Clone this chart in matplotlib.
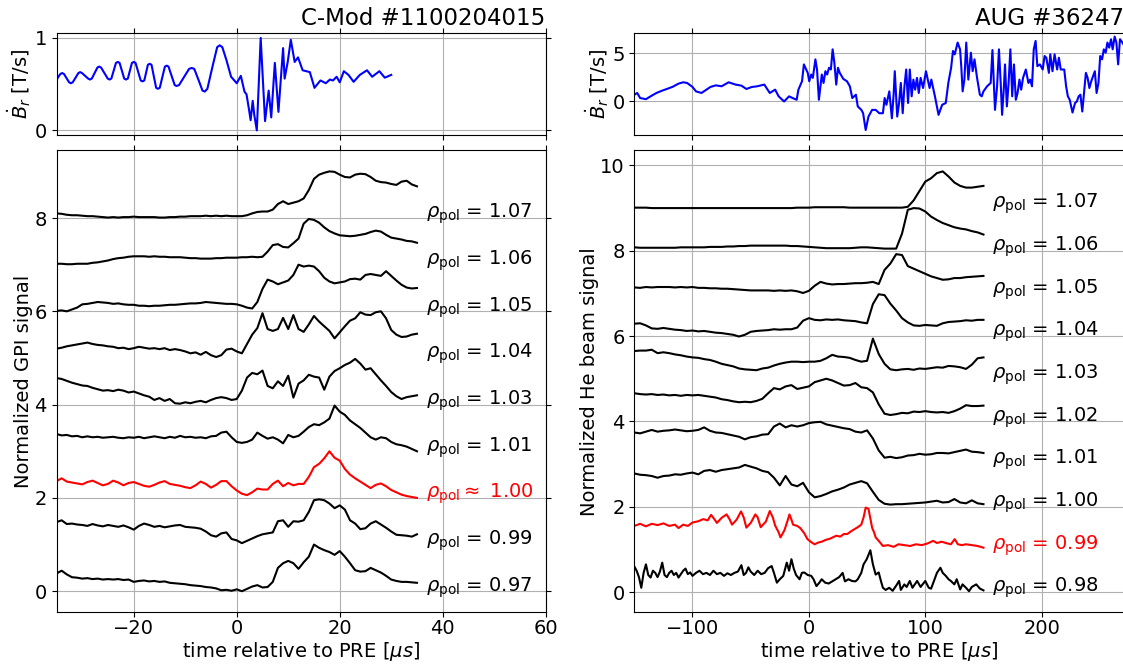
import numpy as np
import matplotlib
matplotlib.use('Agg')
import matplotlib.pyplot as plt

plt.rcParams['font.family'] = ['DejaVu Sans']
plt.rcParams['mathtext.fontset'] = 'dejavusans'
plt.rcParams['font.size'] = 14

# ---------------- C-Mod data ----------------
cmod_t = np.arange(-35, 36, 1)
cmod_labels = ['1.07', '1.06', '1.05', '1.04', '1.03', '1.01', '1.00', '0.99', '0.97']
cmod_offsets = [8, 7, 6, 5, 4, 3, 2, 1, 0]
cmod_colors = ['k', 'k', 'k', 'k', 'k', 'k', 'r', 'k', 'k']

c107 = [8.10, 8.09, 8.07, 8.06, 8.06, 8.05, 8.04, 8.04, 8.03, 8.02, 8.01, 8.02, 8.01, 8.02, 8.02,
        8.03, 8.02, 8.02, 8.02, 8.02, 8.01, 8.01, 8.02, 8.02, 8.03, 8.03, 8.04, 8.04, 8.04, 8.05,
        8.04, 8.05, 8.04, 8.05, 8.04, 8.04, 8.04, 8.06, 8.10, 8.13, 8.14, 8.14, 8.18, 8.30, 8.36,
        8.30, 8.33, 8.36, 8.42, 8.60, 8.84, 8.93, 8.97, 9.00, 8.99, 8.93, 8.88, 8.87, 8.93, 8.95,
        8.94, 8.88, 8.80, 8.77, 8.76, 8.73, 8.71, 8.78, 8.80, 8.72, 8.68]
c106 = [7.02, 7.02, 7.01, 7.01, 7.02, 7.02, 7.02, 7.04, 7.05, 7.07, 7.09, 7.12, 7.14, 7.15, 7.17,
        7.18, 7.18, 7.18, 7.17, 7.18, 7.17, 7.17, 7.16, 7.16, 7.16, 7.15, 7.14, 7.14, 7.13, 7.13,
        7.13, 7.14, 7.14, 7.15, 7.15, 7.15, 7.16, 7.16, 7.17, 7.16, 7.17, 7.28, 7.42, 7.44, 7.38,
        7.37, 7.46, 7.56, 7.88, 7.98, 7.96, 7.90, 7.80, 7.72, 7.67, 7.63, 7.62, 7.61, 7.62, 7.64,
        7.66, 7.70, 7.73, 7.71, 7.64, 7.58, 7.56, 7.54, 7.51, 7.50, 7.47]
c105 = [6.01, 6.02, 6.00, 6.04, 6.08, 6.15, 6.16, 6.18, 6.20, 6.19, 6.18, 6.16, 6.17, 6.15, 6.14,
        6.14, 6.12, 6.12, 6.11, 6.12, 6.12, 6.13, 6.14, 6.14, 6.15, 6.16, 6.17, 6.17, 6.18, 6.20,
        6.19, 6.18, 6.17, 6.16, 6.16, 6.15, 6.12, 6.08, 6.06, 6.20, 6.48, 6.68, 6.64, 6.58, 6.62,
        6.66, 6.78, 7.00, 6.96, 6.98, 6.96, 6.86, 6.72, 6.64, 6.60, 6.62, 6.64, 6.69, 6.70, 6.68,
        6.78, 6.80, 6.78, 6.76, 6.86, 6.76, 6.66, 6.57, 6.51, 6.49, 6.50]
c104 = [5.20, 5.22, 5.25, 5.27, 5.29, 5.31, 5.33, 5.30, 5.28, 5.27, 5.25, 5.24, 5.21, 5.22, 5.19,
        5.21, 5.24, 5.22, 5.20, 5.21, 5.19, 5.21, 5.17, 5.19, 5.17, 5.14, 5.10, 5.12, 5.07, 5.13,
        5.06, 5.02, 5.06, 5.18, 5.20, 5.14, 5.10, 5.30, 5.50, 5.64, 5.96, 5.62, 5.58, 5.62, 5.86,
        5.62, 5.92, 5.62, 5.56, 5.72, 5.90, 5.78, 5.68, 5.58, 5.42, 5.55, 5.68, 5.80, 5.85, 5.98,
        5.93, 5.92, 5.98, 6.00, 5.85, 5.60, 5.50, 5.45, 5.46, 5.50, 5.52]
c103 = [4.57, 4.55, 4.51, 4.47, 4.44, 4.41, 4.40, 4.36, 4.33, 4.30, 4.31, 4.29, 4.32, 4.30, 4.26,
        4.28, 4.24, 4.20, 4.17, 4.10, 4.14, 4.08, 4.12, 4.03, 4.02, 4.05, 4.03, 4.06, 4.08, 4.05,
        4.10, 4.14, 4.16, 4.14, 4.10, 4.12, 4.30, 4.58, 4.68, 4.65, 4.73, 4.40, 4.35, 4.50, 4.40,
        4.62, 4.15, 4.45, 4.52, 4.64, 4.60, 4.58, 4.32, 4.60, 4.72, 4.78, 4.85, 4.90, 4.98, 4.88,
        4.75, 4.78, 4.65, 4.52, 4.40, 4.27, 4.18, 4.12, 4.16, 4.18, 4.20]
c101 = [3.37, 3.34, 3.35, 3.32, 3.33, 3.30, 3.32, 3.30, 3.31, 3.29, 3.30, 3.31, 3.29, 3.28, 3.30,
        3.29, 3.31, 3.28, 3.30, 3.32, 3.30, 3.28, 3.31, 3.29, 3.33, 3.30, 3.31, 3.29, 3.30, 3.28,
        3.32, 3.33, 3.40, 3.42, 3.30, 3.20, 3.18, 3.20, 3.25, 3.40, 3.33, 3.27, 3.30, 3.25, 3.17,
        3.35, 3.30, 3.33, 3.42, 3.52, 3.58, 3.56, 3.62, 3.70, 3.98, 3.85, 3.78, 3.66, 3.58, 3.50,
        3.40, 3.30, 3.25, 3.30, 3.28, 3.20, 3.15, 3.13, 3.10, 3.05, 3.00]
c100 = [2.36, 2.42, 2.35, 2.33, 2.31, 2.29, 2.34, 2.37, 2.32, 2.27, 2.30, 2.37, 2.33, 2.27, 2.32,
        2.34, 2.30, 2.26, 2.24, 2.28, 2.33, 2.36, 2.30, 2.28, 2.26, 2.23, 2.21, 2.27, 2.35, 2.30,
        2.22, 2.28, 2.36, 2.36, 2.25, 2.16, 2.09, 2.06, 2.12, 2.20, 2.18, 2.18, 2.30, 2.37, 2.25,
        2.32, 2.27, 2.30, 2.30, 2.45, 2.66, 2.73, 2.85, 3.00, 2.86, 2.80, 2.62, 2.50, 2.42, 2.35,
        2.28, 2.21, 2.28, 2.31, 2.25, 2.17, 2.12, 2.07, 2.04, 2.02, 2.00]
c099 = [1.48, 1.52, 1.44, 1.45, 1.43, 1.42, 1.40, 1.44, 1.41, 1.39, 1.42, 1.40, 1.38, 1.41, 1.37,
        1.32, 1.40, 1.45, 1.42, 1.38, 1.40, 1.37, 1.39, 1.41, 1.42, 1.38, 1.37, 1.36, 1.34, 1.28,
        1.20, 1.17, 1.24, 1.26, 1.12, 1.09, 1.03, 1.08, 1.13, 1.18, 1.22, 1.24, 1.26, 1.50, 1.52,
        1.38, 1.50, 1.49, 1.52, 1.70, 1.95, 1.97, 1.95, 1.88, 1.78, 1.84, 1.75, 1.52, 1.45, 1.33,
        1.35, 1.45, 1.50, 1.43, 1.36, 1.28, 1.21, 1.20, 1.19, 1.17, 1.22]
c097 = [0.38, 0.44, 0.36, 0.30, 0.29, 0.27, 0.28, 0.26, 0.27, 0.25, 0.26, 0.25, 0.26, 0.24, 0.25,
        0.20, 0.22, 0.23, 0.21, 0.22, 0.20, 0.21, 0.18, 0.17, 0.16, 0.15, 0.13, 0.12, 0.11, 0.09,
        0.08, 0.06, 0.02, 0.03, 0.01, 0.04, 0.00, 0.05, 0.10, 0.13, 0.08, 0.09, 0.20, 0.50, 0.60,
        0.65, 0.60, 0.48, 0.62, 0.74, 1.00, 0.93, 0.88, 0.84, 0.78, 0.86, 0.74, 0.60, 0.45, 0.42,
        0.43, 0.50, 0.45, 0.40, 0.33, 0.25, 0.22, 0.20, 0.20, 0.19, 0.18]
cmod_traces = [c107, c106, c105, c104, c103, c101, c100, c099, c097]

cmod_br_t = [-35.3, -34.7, -34.25, -33.9, -33.55, -33.05, -32.55, -32.2, -31.85, -31.3, -30.75,
             -30.4, -30.05, -29.45, -28.85, -28.5, -28.15, -27.6, -27.05, -26.7, -26.35, -25.7,
             -25.05, -24.7, -24.35, -23.9, -23.45, -23.1, -22.75, -22.3, -21.85, -21.5, -21.15,
             -20.75, -20.35, -20.0, -19.65, -19.15, -18.65, -18.3, -17.95, -17.6, -17.25, -16.9,
             -16.55, -16.1, -15.65, -15.3, -14.95, -14.45, -13.95, -13.6, -13.25, -12.65, -12.05,
             -11.7, -11.2, -10.2, -9.25, -8.75, -8.25, -7.45, -6.65, -6.2, -5.7, -4.75, -3.8, -3.3,
             -2.8, -2.0, -1.1,
             0.0, 0.8, 1.5, 1.9, 2.4, 2.7, 3.1, 3.4, 3.9, 4.65, 5.5, 6.2, 6.7, 7.4, 8.1, 9.0, 9.3,
             9.9, 10.5, 11.25, 11.9, 12.8, 14.2, 15.1, 16.25, 17.3, 18.1, 18.7, 19.4, 20.0, 20.8,
             21.7, 22.7, 23.9, 25.3, 26.3, 27.7, 28.75, 30.0]
cmod_br_v = [0.51, 0.575, 0.61, 0.62, 0.61, 0.565, 0.52, 0.51, 0.52, 0.57, 0.62,
             0.63, 0.62, 0.59, 0.56, 0.55, 0.56, 0.62, 0.68, 0.69, 0.68, 0.62,
             0.56, 0.55, 0.56, 0.645, 0.73, 0.74, 0.73, 0.645, 0.56, 0.55, 0.56,
             0.645, 0.73, 0.74, 0.73, 0.635, 0.54, 0.53, 0.54, 0.625, 0.71, 0.72,
             0.71, 0.585, 0.46, 0.45, 0.46, 0.575, 0.69, 0.70, 0.69, 0.59, 0.49,
             0.48, 0.49, 0.58, 0.665, 0.675, 0.665, 0.55, 0.43, 0.42, 0.45, 0.68, 0.90, 0.92,
             0.90, 0.76, 0.58,
             0.51, 0.59, 0.42, 0.39, 0.22, 0.11, 0.32, 0.17, 0.00, 1.00, 0.10, 0.43, 0.14, 0.73,
             0.20, 0.89, 0.56, 0.74, 0.98, 0.74, 0.79, 0.65, 0.63, 0.46, 0.54, 0.51, 0.55, 0.54,
             0.58, 0.52, 0.64, 0.60, 0.525, 0.60, 0.65, 0.58, 0.64, 0.57, 0.60]

# ---------------- AUG data ----------------
aug_t = np.arange(-150, 151, 5)
aug_labels = ['1.07', '1.06', '1.05', '1.04', '1.03', '1.02', '1.01', '1.00', '0.99', '0.98']
aug_offsets = [9, 8, 7, 6, 5, 4, 3, 2, 1, 0]
aug_colors = ['k', 'k', 'k', 'k', 'k', 'k', 'k', 'k', 'r', 'k']

a107 = [9.01, 9.01, 9.01, 9.00, 9.00, 9.00, 9.00, 9.00, 9.00, 9.00,
        9.00, 9.00, 9.00, 9.00, 9.00, 9.00, 9.00, 9.00, 9.00, 9.00,
        9.00, 9.00, 9.00, 9.00, 9.00, 9.00, 9.00, 9.00, 9.01, 9.01,
        9.01, 9.02, 9.02, 9.02, 9.02, 9.02, 9.02, 9.01, 9.01, 9.01,
        9.01, 9.01, 9.01, 9.01, 9.01, 9.01, 9.01, 9.03, 9.18, 9.40,
        9.62, 9.70, 9.82, 9.86, 9.74, 9.60, 9.52, 9.48, 9.48, 9.50, 9.52]
a106 = [8.08, 8.07, 8.07, 8.07, 8.07, 8.07, 8.07, 8.07, 8.08, 8.08,
        8.08, 8.08, 8.08, 8.09, 8.09, 8.09, 8.10, 8.10, 8.11, 8.11,
        8.12, 8.12, 8.12, 8.12, 8.12, 8.12, 8.12, 8.11, 8.11, 8.10,
        8.09, 8.08, 8.07, 8.06, 8.06, 8.06, 8.06, 8.06, 8.07, 8.08,
        8.08, 8.07, 8.06, 8.05, 8.05, 8.05, 8.40, 8.96, 9.00, 8.99,
        8.92, 8.80, 8.72, 8.65, 8.60, 8.55, 8.52, 8.50, 8.46, 8.43, 8.38]
a105 = [7.14, 7.13, 7.15, 7.14, 7.15, 7.15, 7.15, 7.14, 7.15, 7.14,
        7.15, 7.13, 7.13, 7.12, 7.12, 7.11, 7.11, 7.10, 7.09, 7.08,
        7.07, 7.07, 7.07, 7.07, 7.06, 7.07, 7.06, 7.07, 7.05, 7.01,
        7.06, 7.18, 7.27, 7.23, 7.21, 7.22, 7.22, 7.23, 7.24, 7.24,
        7.25, 7.27, 7.22, 7.55, 7.70, 7.92, 7.90, 7.64, 7.58, 7.52,
        7.46, 7.40, 7.36, 7.32, 7.33, 7.36, 7.36, 7.38, 7.39, 7.40, 7.41]
a104 = [6.29, 6.30, 6.25, 6.18, 6.17, 6.19, 6.17, 6.15, 6.14, 6.12,
        6.13, 6.11, 6.12, 6.10, 6.08, 6.07, 6.05, 6.03, 5.99, 6.03,
        6.10, 6.12, 6.13, 6.14, 6.16, 6.15, 6.16, 6.16, 6.20, 6.36,
        6.42, 6.38, 6.37, 6.39, 6.38, 6.39, 6.37, 6.36, 6.35, 6.32,
        6.30, 6.75, 6.98, 6.96, 6.76, 6.60, 6.42, 6.32, 6.25, 6.24,
        6.26, 6.25, 6.24, 6.30, 6.33, 6.34, 6.35, 6.37, 6.36, 6.38, 6.38]
a103 = [5.65, 5.66, 5.66, 5.68, 5.60, 5.62, 5.60, 5.57, 5.55, 5.52,
        5.50, 5.49, 5.46, 5.44, 5.40, 5.35, 5.32, 5.29, 5.24, 5.22,
        5.21, 5.20, 5.24, 5.26, 5.31, 5.35, 5.38, 5.40, 5.40, 5.39,
        5.40, 5.40, 5.42, 5.48, 5.56, 5.52, 5.51, 5.49, 5.44, 5.40,
        5.42, 5.94, 5.58, 5.35, 5.22, 5.20, 5.22, 5.23, 5.21, 5.24,
        5.23, 5.25, 5.27, 5.26, 5.30, 5.29, 5.27, 5.23, 5.33, 5.48, 5.50]
a102 = [4.66, 4.64, 4.63, 4.64, 4.62, 4.63, 4.61, 4.62, 4.60, 4.62,
        4.61, 4.62, 4.60, 4.58, 4.56, 4.52, 4.50, 4.47, 4.45, 4.46,
        4.45, 4.48, 4.53, 4.66, 4.78, 4.75, 4.82, 4.85, 4.76, 4.79,
        4.82, 4.92, 4.96, 5.00, 4.96, 4.90, 4.84, 4.85, 4.90, 4.80,
        4.78, 4.68, 4.40, 4.18, 4.15, 4.17, 4.20, 4.19, 4.23, 4.22,
        4.24, 4.22, 4.21, 4.22, 4.20, 4.24, 4.30, 4.38, 4.36, 4.36, 4.37]
a101 = [3.74, 3.72, 3.76, 3.80, 3.76, 3.78, 3.79, 3.81, 3.79, 3.77,
        3.78, 3.80, 3.86, 3.78, 3.74, 3.73, 3.70, 3.67, 3.64, 3.58,
        3.63, 3.65, 3.69, 3.70, 3.88, 3.95, 3.86, 3.91, 3.88, 3.91,
        3.96, 3.98, 3.99, 3.93, 3.90, 3.87, 3.84, 3.82, 3.76, 3.74,
        3.79, 3.60, 3.32, 3.15, 3.17, 3.14, 3.16, 3.20, 3.21, 3.24,
        3.22, 3.23, 3.26, 3.26, 3.25, 3.28, 3.31, 3.34, 3.29, 3.28, 3.26]
a100 = [2.78, 2.75, 2.74, 2.72, 2.68, 2.72, 2.73, 2.76, 2.75, 2.78,
        2.80, 2.76, 2.84, 2.86, 2.82, 2.86, 2.88, 2.90, 2.92, 2.98,
        2.94, 2.90, 2.84, 2.81, 2.68, 2.50, 2.72, 2.52, 2.48, 2.56,
        2.34, 2.22, 2.25, 2.30, 2.36, 2.40, 2.45, 2.52, 2.56, 2.60,
        2.55, 2.35, 2.16, 2.07, 2.05, 2.06, 2.06, 2.07, 2.08, 2.09,
        2.10, 2.12, 2.14, 2.10, 2.11, 2.18, 2.10, 2.08, 2.15, 2.08, 2.06]

a099_t = [-150, -145, -140, -135, -130, -125, -120, -115, -112, -108, -104, -100, -95, -90.7, -87,
          -84, -81, -79, -75, -70.7, -68, -66, -62, -58.3, -56, -53.7, -50, -46, -44, -41.4, -37,
          -33.6, -31, -29, -26, -24.4, -21, -18, -16.7, -15, -13.6, -10, -7.4, -4, -1.2, 2, 4.9,
          8, 11, 14.2, 18, 23.5, 27, 30, 33, 36, 38.9, 42, 45, 47, 48.8, 51.2, 53, 54.3, 56, 57.4,
          60, 63.6, 68, 72.8, 77, 82, 87, 92, 97, 102, 106.8, 110, 114, 119, 122, 125.3, 128,
          131.5, 135, 140, 145, 150]
a099_v = [1.55, 1.60, 1.54, 1.60, 1.57, 1.61, 1.55, 1.58, 1.50, 1.58, 1.55, 1.63, 1.66, 1.71, 1.68,
          1.81, 1.70, 1.62, 1.74, 1.82, 1.70, 1.58, 1.70, 1.89, 1.75, 1.51, 1.62, 1.82, 1.75, 1.52, 1.65,
          1.90, 1.75, 1.56, 1.40, 1.28, 1.45, 1.70, 1.82, 1.70, 1.58, 1.55, 1.50, 1.38, 1.24, 1.17, 1.12,
          1.16, 1.18, 1.22, 1.25, 1.32, 1.30, 1.36, 1.36, 1.42, 1.47, 1.52, 1.58, 1.75, 1.98, 1.95, 1.70,
          1.51, 1.40, 1.28, 1.20, 1.08, 1.10, 1.06, 1.12, 1.10, 1.08, 1.12, 1.10, 1.14, 1.20, 1.15, 1.18,
          1.14, 1.12, 1.24, 1.12, 1.10, 1.12, 1.10, 1.08, 1.04]

a098_t = [-150, -148, -146, -144, -142, -140, -138, -136, -134, -132, -130, -128, -126, -124, -122,
          -120, -118, -116, -114, -112, -110, -108, -106, -104, -102, -100, -97, -94, -91, -88, -85,
          -82, -79, -76, -73, -70, -67, -64, -61, -58, -56, -54, -52, -50, -47, -44, -41, -38, -35,
          -32, -30, -27.5, -25, -22, -19, -17, -15, -13, -11, -8, -6, -4, -1, 2, 4, 6.5, 9, 11, 14,
          17, 20, 23, 26, 29, 31, 34, 37, 40, 42, 45, 47, 49.7, 52.8, 55, 57.4, 60, 62, 63.6, 66,
          69, 72, 75, 77.5, 79, 82, 84, 86.7, 89, 93, 96, 100, 103, 105, 108, 110, 113, 115, 117.6,
          120, 122, 125, 127, 130, 132, 135, 137.6, 140, 143.8, 147, 150]
a098_v = [0.60, 0.50, 0.35, 0.10, 0.45, 0.65, 0.40, 0.34, 0.50, 0.45, 0.35, 0.48, 0.69, 0.40, 0.35,
          0.45, 0.50, 0.40, 0.45, 0.34, 0.42, 0.50, 0.55, 0.42, 0.46, 0.38, 0.45, 0.50, 0.42, 0.45, 0.40,
          0.50, 0.42, 0.45, 0.38, 0.44, 0.40, 0.45, 0.48, 0.63, 0.40, 0.45, 0.58, 0.48, 0.40, 0.50, 0.42,
          0.45, 0.56, 0.61, 0.45, 0.22, 0.30, 0.38, 0.69, 0.50, 0.77, 0.55, 0.40, 0.30, 0.45, 0.46, 0.40,
          0.38, 0.30, 0.14, 0.22, 0.30, 0.22, 0.20, 0.25, 0.30, 0.35, 0.45, 0.25, 0.30, 0.26, 0.25, 0.30,
          0.45, 0.65, 0.77, 0.98, 0.65, 0.41, 0.46, 0.25, 0.10, 0.05, 0.10, 0.03, 0.15, 0.26, 0.05, 0.18,
          0.12, 0.26, 0.10, 0.26, 0.12, 0.26, 0.10, 0.08, 0.30, 0.45, 0.57, 0.45, 0.38, 0.30, 0.26, 0.18,
          0.30, 0.06, 0.18, 0.10, 0.02, 0.12, 0.18, 0.08, 0.04]

aug_br_t = [-150, -147.5, -145, -140, -136, -131, -126, -122, -117, -112, -108, -104.6, -100, -97,
            -92.3, -88, -84.6, -80, -75, -69, -63, -58, -53.7, -49, -44.4, -38.3, -33.6, -29, -26,
            -21.3, -17, -14, -10.5, -9, -5.9, -4.3, -1, 0.3, 2, 3.4, 5.6, 7, 8.6, 11.1, 12.6, 14.2,
            15.7, 17.3, 18.9, 20.4, 21.9, 23.5, 25, 26.5, 29.6, 32.7, 35.2, 37.3, 40.4, 42, 45.1,
            46.6, 48.8, 51.2, 54.3, 57.4, 60.5, 63.6, 65.1, 66.6, 69.1, 71.3, 72.8, 73.8, 75.9,
            77.5, 79, 80.6, 82.1, 83.6, 85.2, 86.7, 88.3, 89.8, 91.3, 92.9, 94.4, 96, 98.1, 100.6,
            103.7, 105.2, 108.3, 111.4, 114.5, 117.6, 119.8, 122.2, 123.8, 125.3, 127.8, 129.9,
            131, 132.1, 133.6, 135.2, 137, 139.2, 140.7, 142.3, 144.5, 146.9, 148.5, 150, 153.1,
            156.2, 157.7, 159.9, 161.7, 163.3, 164.8, 166, 167.6, 168.5, 170.1, 171.6, 173.1,
            174.7, 176.2, 177.8, 179.3, 180.9, 182.4, 184, 186.4, 188.6, 190.1, 191.7, 193.2,
            194.8, 196.3, 198.5, 200.9, 202.5, 204, 206.2, 207.4, 209.3, 211.1, 213.3, 214.8,
            216.4, 219.4, 221, 222.5, 224.1, 226.5, 228.7, 230.2, 231.8, 233.3, 234.9, 236.4, 238,
            239.5, 241, 242.6, 244.1, 245.7, 247.2, 248.8, 250.3, 251.9, 253.4, 255, 256.5, 258,
            259.6, 261, 262.7, 264.2, 265.7, 267.3, 269, 271]
aug_br_v = [0.67, 0.85, 0.32, 0.20, 0.50, 0.85, 1.10, 1.27, 1.50, 1.83, 1.97, 1.90, 1.48, 1.02,
            0.85, 1.20, 1.48, 1.65, 1.55, 1.97, 1.73, 1.62, 1.27, 1.48, 1.55, 1.73, 0.85, 1.20, 0.50,
            -0.04, 0.50, 0.32, 0.14, 1.20, 2.08, 3.84, 2.96, 2.08, 2.78, 2.43, 4.37, 3.30, 0.14, 2.78,
            1.90, 3.13, 2.78, 3.49, 3.31, 5.42, 4.01, 1.73, 3.49, 2.96, 2.32, 2.08, 1.55, 0.32, 0.67,
            -0.56, -0.92, -1.27, -3.03, -1.62, -0.92, -0.92, -1.27, -1.27, 0.32, -0.39, 1.02, -1.80,
            0.67, 3.13, -1.62, -0.20, 1.90, -1.27, 1.55, 3.31, -0.20, 3.31, 0.50, 2.25, 1.20, 2.43,
            0.85, 2.43, 1.37, 3.13, 1.37, 2.25, 0.50, -1.44, -0.39, -0.20, 1.90, 3.49, 5.25, 4.89,
            6.13, 5.42, 3.49, 1.02, 2.25, 6.13, 2.25, 5.07, 3.13, 4.37, 2.43, 0.67, 0.50, 1.02, 1.55,
            1.90, 5.35, -0.92, 1.55, 5.42, 1.90, -1.44, 1.55, 3.84, -0.56, 1.90, 5.42, 0.50, 3.84,
            0.14, 0.85, 2.25, 1.20, 2.43, 3.31, 1.90, 2.25, 1.55, 5.42, 6.30, 3.66, 3.84, 3.31, 4.72,
            4.54, 2.96, 4.90, 3.13, 4.90, 3.31, 4.54, 3.31, 3.31, 1.55, 0.50, 0.14, -1.20, -0.20,
            -0.04, 0.50, 0.67, -1.09, 0.85, 2.96, 2.43, 1.37, 2.08, 2.60, 3.13, 0.85, 1.90, 4.72,
            4.37, 5.42, 5.07, 6.13, 5.60, 6.48, 5.42, 6.76, 6.13, 3.84, 6.48, 6.20, 5.80]

aug_time_traces = [(aug_t, a107), (aug_t, a106), (aug_t, a105), (aug_t, a104), (aug_t, a103),
                   (aug_t, a102), (aug_t, a101), (aug_t, a100), (a099_t, a099_v), (a098_t, a098_v)]

# ---------------- figure ----------------
W, H = 1123, 666
fig = plt.figure(figsize=(W / 100, H / 100), dpi=100)


def ax_at(x0, ytop, x1, ybot):
    return fig.add_axes([x0 / W, 1 - ybot / H, (x1 - x0) / W, (ybot - ytop) / H])


ax_lt = ax_at(56.5, 33.3, 545.7, 135.0)
ax_lb = ax_at(56.5, 150.4, 545.7, 612.2)
ax_rt = ax_at(634.3, 33.3, 1124.3, 135.0)
ax_rb = ax_at(634.3, 150.4, 1124.3, 612.2)

lw = 1.5
# C-Mod
ax_lt.plot(cmod_br_t, cmod_br_v, color='b', lw=lw)
for tr, off, lab, col in zip(cmod_traces, cmod_offsets, cmod_labels, cmod_colors):
    ax_lb.plot(cmod_t, tr, color=col, lw=lw)
    rel = r'$\rho_\mathrm{pol}\approx$ ' if col == 'r' else r'$\rho_\mathrm{pol}$ = '
    ax_lb.text(1.05 * 35, off, rel + lab, color=col, fontsize=14, va='baseline', ha='left')

# AUG
ax_rt.plot(aug_br_t, aug_br_v, color='b', lw=lw)
for (tt, tr), off, lab, col in zip(aug_time_traces, aug_offsets, aug_labels, aug_colors):
    ax_rb.plot(tt, tr, color=col, lw=lw)
    ax_rb.text(1.05 * 150, off, r'$\rho_\mathrm{pol}$ = ' + lab, color=col, fontsize=14,
               va='baseline', ha='left')

for ax in (ax_lt, ax_lb):
    ax.set_xlim(-35, 60)
    ax.set_xticks([-20, 0, 20, 40, 60])
for ax in (ax_rt, ax_rb):
    ax.set_xlim(-150, 271)
    ax.set_xticks([-100, 0, 100, 200])

ax_lt.set_yticks([0, 1])
ax_rt.set_yticks([0, 5])
ax_rt.set_ylim(-3.55, 7.1)
ax_lb.set_yticks([0, 2, 4, 6, 8])
ax_rb.set_yticks([0, 2, 4, 6, 8, 10])

for ax in (ax_lt, ax_lb, ax_rt, ax_rb):
    ax.grid(True)
    ax.tick_params(top=True, right=True, labelsize=14)
for ax in (ax_lt, ax_rt):
    ax.tick_params(labelbottom=False)
for ax in (ax_lb, ax_rb):
    ax.tick_params(axis='x', pad=1.5)

ax_lt.set_title('C-Mod #1100204015', loc='right', fontsize=16.5)
ax_rt.set_title('AUG #36247', loc='right', fontsize=16.5)
ax_lt.set_ylabel(r'$\dot{B}_r$ [T/s]', fontsize=14, labelpad=1)
ax_rt.set_ylabel(r'$\dot{B}_r$ [T/s]', fontsize=14, labelpad=1)
ax_lb.set_ylabel('Normalized GPI signal', fontsize=14, labelpad=1)
ax_rb.set_ylabel('Normalized He beam signal', fontsize=14, labelpad=1)
ax_lb.set_xlabel(r'time relative to PRE [$\mu s$]', fontsize=14, labelpad=1)
ax_rb.set_xlabel(r'time relative to PRE [$\mu s$]', fontsize=14, labelpad=1)

fig.savefig('out.png', dpi=100)
